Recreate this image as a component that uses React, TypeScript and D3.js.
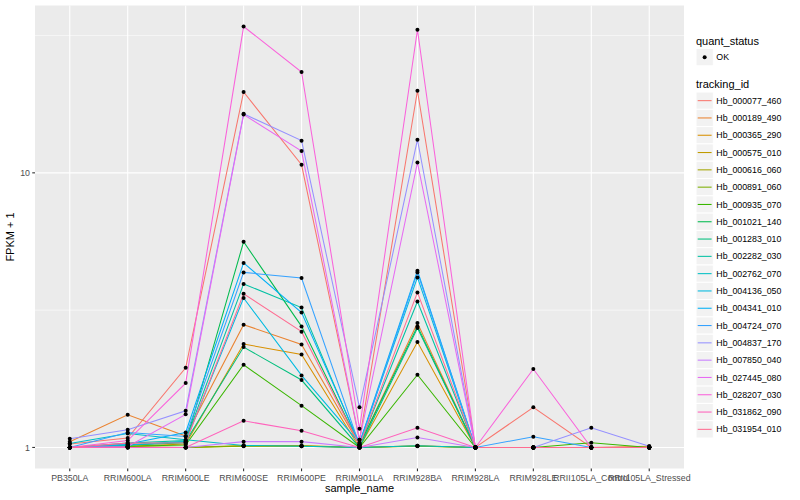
import React, { useEffect, useRef } from 'react';
import * as d3 from 'd3';

// FPKM + 1 per sample
const samples = [
  'PB350LA', 'RRIM600LA', 'RRIM600LE', 'RRIM600SE', 'RRIM600PE', 'RRIM901LA',
  'RRIM928BA', 'RRIM928LA', 'RRIM928LE', 'RRII105LA_Control', 'RRII105LA_Stressed',
];

const trackingIds = [
  'Hb_000077_460', 'Hb_000189_490', 'Hb_000365_290', 'Hb_000575_010', 'Hb_000616_060',
  'Hb_000891_060', 'Hb_000935_070', 'Hb_001021_140', 'Hb_001283_010', 'Hb_002282_030',
  'Hb_002762_070', 'Hb_004136_050', 'Hb_004341_010', 'Hb_004724_070', 'Hb_004837_170',
  'Hb_007850_040', 'Hb_027445_080', 'Hb_028207_030', 'Hb_031862_090', 'Hb_031954_010',
];

// ggplot default hue palette for 20 levels
const palette = [
  '#F8766D', '#EA8331', '#D89000', '#C09B00', '#A3A500', '#7CAE00', '#39B600',
  '#00BB4E', '#00BF7D', '#00C1A3', '#00BFC4', '#00BAE0', '#00B0F6', '#35A2FF',
  '#9590FF', '#C77CFF', '#E76BF3', '#FA62DB', '#FF62BC', '#FF6C91',
];

const hb000077 = [1.03, 1.082, 1.95, 19.7, 10.7, 1.066, 19.9, 1.0, 1.40, 1.0, 1.0];
const hb000189 = [1.049, 1.315, 1.10, 2.80, 2.37, 1.02, 2.84, 1.0, 1.0, 1.0, 1.01];
const hb000365 = [1.0, 1.01, 1.03, 2.38, 2.18, 1.0, 2.42, 1.0, 1.0, 1.0, 1.0];
const hb000575 = [1.0, 1.0, 1.0, 1.017, 1.017, 1.0, 1.014, 1.0, 1.0, 1.0, 1.0];
const hb000616 = [1.0, 1.008, 1.0, 1.01, 1.01, 1.0, 1.01, 1.0, 1.0, 1.0, 1.0];
const hb000891 = [1.0, 1.0, 1.0, 1.012, 1.012, 1.0, 1.012, 1.0, 1.0, 1.0, 1.0];
const hb000935 = [1.0, 1.01, 1.02, 2.0, 1.42, 1.0, 1.84, 1.0, 1.0, 1.04, 1.0];
const hb001021 = [1.0, 1.02, 1.04, 5.61, 2.76, 1.02, 2.76, 1.0, 1.0, 1.0, 1.0];
const hb001283 = [1.0, 1.02, 1.05, 2.32, 1.76, 1.0, 2.72, 1.0, 1.0, 1.0, 1.0];
const hb002282 = [1.0, 1.037, 1.06, 3.94, 3.23, 1.02, 3.40, 1.0, 1.0, 1.0, 1.0];
const hb002762 = [1.034, 1.124, 1.066, 1.017, 1.01, 1.0, 1.014, 1.0, 1.0, 1.0, 1.0];
const hb004136 = [1.0, 1.02, 1.05, 3.50, 1.83, 1.037, 4.16, 1.0, 1.0, 1.0, 1.0];
const hb004341 = [1.0, 1.03, 1.134, 4.70, 3.10, 1.037, 4.40, 1.0, 1.0, 1.0, 1.0];
const hb004724 = [1.0, 1.134, 1.097, 4.34, 4.14, 1.02, 4.34, 1.0, 1.094, 1.0, 1.0];
const hb004837 = [1.076, 1.16, 1.36, 16.4, 13.1, 1.40, 13.2, 1.0, 1.0, 1.18, 1.01];
const hb007850 = [1.0, 1.0, 1.0, 1.05, 1.05, 1.0, 1.087, 1.0, 1.0, 1.0, 1.0];
const hb027445 = [1.0, 1.008, 1.32, 16.3, 12.0, 1.066, 10.9, 1.0, 1.0, 1.0, 1.0];
const hb028207 = [1.0, 1.06, 1.715, 34.1, 23.3, 1.17, 33.2, 1.0, 1.93, 1.0, 1.0];
const hb031862 = [1.0, 1.0, 1.0, 1.25, 1.15, 1.0, 1.18, 1.0, 1.0, 1.0, 1.0];
const hb031954 = [1.0, 1.037, 1.04, 3.63, 2.64, 1.02, 3.67, 1.0, 1.0, 1.0, 1.0];

const seriesValues = [
  hb000077, hb000189, hb000365, hb000575, hb000616, hb000891, hb000935, hb001021,
  hb001283, hb002282, hb002762, hb004136, hb004341, hb004724, hb004837, hb007850,
  hb027445, hb028207, hb031862, hb031954,
];

const yBreaks = [1, 10];

const W = 800;
const H = 500;
const FONT = '"Liberation Sans", Arial, Helvetica, sans-serif';

const Chart: React.FC = () => {
  const svgRef = useRef<SVGSVGElement>(null);

  useEffect(() => {
    if (!svgRef.current) return;
    document.body.style.margin = '0';
    const svg = d3.select(svgRef.current);
    svg.selectAll('*').remove();

    const panel = { left: 35, right: 684, top: 5.5, bottom: 468.5 };

    const colour = d3.scaleOrdinal<string, string>().domain(trackingIds).range(palette);

    const x = d3.scalePoint<string>().domain(samples).range([panel.left, panel.right]).padding(0.6);

    const logs = seriesValues.flat().map(v => Math.log10(v));
    const lo = d3.min(logs)!;
    const hi = d3.max(logs)!;
    const ex = (hi - lo) * 0.05;
    const yl = d3.scaleLinear().domain([lo - ex, hi + ex]).range([panel.bottom, panel.top]);
    const y = (v: number) => yl(Math.log10(v));

    // panel
    svg.append('rect')
      .attr('x', panel.left).attr('y', panel.top)
      .attr('width', panel.right - panel.left).attr('height', panel.bottom - panel.top)
      .attr('fill', '#EBEBEB');

    const grid = svg.append('g');
    // minor: midpoints between major breaks in log space
    const minor = [0.5, 1.5].map(e => Math.pow(10, e));
    grid.selectAll('.minor').data(minor).join('line')
      .attr('x1', panel.left).attr('x2', panel.right)
      .attr('y1', d => y(d)).attr('y2', d => y(d))
      .attr('stroke', '#fff').attr('stroke-width', 0.55);
    grid.selectAll('.major').data(yBreaks).join('line')
      .attr('x1', panel.left).attr('x2', panel.right)
      .attr('y1', d => y(d)).attr('y2', d => y(d))
      .attr('stroke', '#fff').attr('stroke-width', 1.1);
    grid.selectAll('.vx').data(samples).join('line')
      .attr('x1', d => x(d)!).attr('x2', d => x(d)!)
      .attr('y1', panel.top).attr('y2', panel.bottom)
      .attr('stroke', '#fff').attr('stroke-width', 1.1);

    // lines
    const line = d3.line<number>()
      .x((_, i) => x(samples[i])!)
      .y(d => y(d));
    svg.append('g').selectAll('path').data(seriesValues).join('path')
      .attr('d', d => line(d))
      .attr('fill', 'none')
      .attr('stroke', (_, i) => colour(trackingIds[i]))
      .attr('stroke-width', 1.05);

    // points
    const pts = seriesValues.flatMap(vals => vals.map((v, i) => ({ s: samples[i], v })));
    svg.append('g').selectAll('circle').data(pts).join('circle')
      .attr('cx', d => x(d.s)!).attr('cy', d => y(d.v))
      .attr('r', 2)
      .attr('fill', '#000');

    // axes
    const axisG = svg.append('g').attr('font-family', FONT);
    axisG.selectAll('.yt').data(yBreaks).join('line')
      .attr('x1', panel.left - 2.75).attr('x2', panel.left)
      .attr('y1', d => y(d)).attr('y2', d => y(d))
      .attr('stroke', '#333').attr('stroke-width', 1.1);
    axisG.selectAll('.yl').data(yBreaks).join('text')
      .attr('x', panel.left - 5).attr('y', d => y(d))
      .attr('dy', '0.35em').attr('text-anchor', 'end')
      .attr('font-size', 8.8).attr('fill', '#4D4D4D')
      .text(d => String(d));
    axisG.selectAll('.xt').data(samples).join('line')
      .attr('x1', d => x(d)!).attr('x2', d => x(d)!)
      .attr('y1', panel.bottom).attr('y2', panel.bottom + 2.75)
      .attr('stroke', '#333').attr('stroke-width', 1.1);
    axisG.selectAll('.xl').data(samples).join('text')
      .attr('x', d => x(d)!).attr('y', panel.bottom + 5 + 7)
      .attr('text-anchor', 'middle')
      .attr('font-size', 8.8).attr('fill', '#4D4D4D')
      .text(d => d);

    axisG.append('text')
      .attr('x', (panel.left + panel.right) / 2).attr('y', H - 8)
      .attr('text-anchor', 'middle').attr('font-size', 11).attr('fill', '#000')
      .text('sample_name');
    axisG.append('text')
      .attr('transform', `translate(14,${(panel.top + panel.bottom) / 2}) rotate(-90)`)
      .attr('text-anchor', 'middle').attr('font-size', 11).attr('fill', '#000')
      .text('FPKM + 1');

    // legend
    const lg = svg.append('g').attr('font-family', FONT);
    const lx = 696;
    const keyW = 17.3;
    lg.append('text').attr('x', lx).attr('y', 44.5).attr('font-size', 11).text('quant_status');
    lg.append('rect').attr('x', lx).attr('y', 48.5).attr('width', keyW).attr('height', keyW)
      .attr('fill', '#F2F2F2').attr('stroke', '#fff');
    lg.append('circle').attr('cx', lx + keyW / 2).attr('cy', 48.5 + keyW / 2).attr('r', 2).attr('fill', '#000');
    lg.append('text').attr('x', lx + keyW + 3).attr('y', 48.5 + keyW / 2).attr('dy', '0.35em')
      .attr('font-size', 8.8).text('OK');

    lg.append('text').attr('x', lx).attr('y', 88).attr('font-size', 11).text('tracking_id');
    const keys = lg.selectAll('.key').data(trackingIds).join('g')
      .attr('transform', (_, i) => `translate(${lx},${92 + i * keyW})`);
    keys.append('rect').attr('width', keyW).attr('height', keyW)
      .attr('fill', '#F2F2F2').attr('stroke', '#fff');
    keys.append('line')
      .attr('x1', 1.7).attr('x2', keyW - 1.7)
      .attr('y1', keyW / 2).attr('y2', keyW / 2)
      .attr('stroke', d => colour(d)).attr('stroke-width', 1.05);
    keys.append('text').attr('x', keyW + 3).attr('y', keyW / 2).attr('dy', '0.35em')
      .attr('font-size', 8.8).text(d => d);
  }, []);

  return <svg ref={svgRef} width={W} height={H} style={{ display: 'block', background: '#fff' }} />;
};

export default function App() {
  return <Chart />;
}
